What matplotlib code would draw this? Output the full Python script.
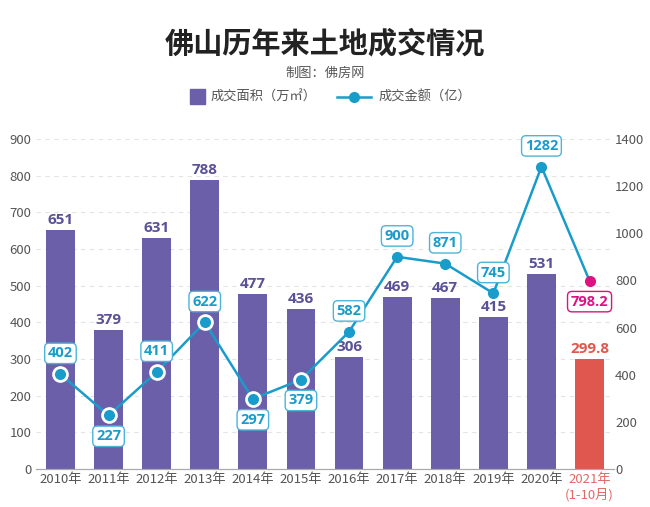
import matplotlib
matplotlib.use('Agg')
import matplotlib.pyplot as plt
from matplotlib.patches import Rectangle
from matplotlib.lines import Line2D

plt.rcParams['font.family'] = ['Noto Sans CJK SC', 'DejaVu Sans']

# data
years = ['2010年', '2011年', '2012年', '2013年', '2014年', '2015年',
         '2016年', '2017年', '2018年', '2019年', '2020年', '2021年\n(1-10月)']
area = [651, 379, 631, 788, 477, 436, 306, 469, 467, 415, 531, 299.8]
amount = [402, 227, 411, 622, 297, 379, 582, 900, 871, 745, 1282, 798.2]
area_labels = ['651', '379', '631', '788', '477', '436', '306', '469', '467', '415', '531', '299.8']
amount_labels = ['402', '227', '411', '622', '297', '379', '582', '900', '871', '745', '1282', '798.2']

PURPLE = '#6a5fa8'
PURPLE_TXT = '#5a5196'
RED = '#e0574f'
CYAN = '#1a9cca'
CYAN_EDGE = '#4db4d8'
MAGENTA = '#df1182'
GREY = '#555555'
NUM_FONT = ['Open Sans', 'DejaVu Sans']

W, H = 650, 507
fig = plt.figure(figsize=(W / 100, H / 100), dpi=100)
ax = fig.add_axes([0.056, 0.075, 0.888, 0.651])
ax2 = ax.twinx()

x = list(range(len(years)))
colors = [PURPLE] * (len(years) - 1) + [RED]
bars = ax.bar(x, area, width=0.6, color=colors, zorder=2)

for i, b in enumerate(bars):
    c = RED if i == len(years) - 1 else PURPLE_TXT
    ax.annotate(area_labels[i], (b.get_x() + b.get_width() / 2, b.get_height()),
                xytext=(0, 2), textcoords='offset points', ha='center', va='bottom',
                fontsize=11, fontweight='bold', color=c, family=NUM_FONT)

ax.set_xlim(-0.5, 11.5)
ax.set_ylim(0, 900)
ax.set_yticks(range(0, 901, 100))
ax.set_xticks(x)
ax.set_xticklabels(years)
ax.grid(axis='y', linestyle=(0, (4, 4)), color='#e4e4e4', linewidth=0.8)
ax.set_axisbelow(True)

ax2.set_ylim(0, 1400)
ax2.set_yticks(range(0, 1401, 200))

for a in (ax, ax2):
    for s in ('left', 'right', 'top'):
        a.spines[s].set_visible(False)
    a.spines['bottom'].set_color('#aaaaaa')
    a.tick_params(length=0, labelsize=9.5, labelcolor=GREY)
ax.tick_params(axis='x', pad=3)
ax2.tick_params(axis='y', pad=1)
ax.get_xticklabels()[-1].set_color('#e06a63')

# line
ax2.plot(x, amount, color=CYAN, linewidth=1.8, zorder=3)
ax2.plot(x[:6], amount[:6], 'o', markersize=10, color=CYAN,
         markeredgecolor='white', markeredgewidth=2, zorder=4)
ax2.plot(x[6:11], amount[6:11], 'o', markersize=7, color=CYAN, zorder=4)
ax2.plot(x[11:], amount[11:], 'o', markersize=7, color=MAGENTA, zorder=4)

below = {1, 4, 5, 11}
for i in x:
    dy = -15 if i in below else 15
    last = i == len(years) - 1
    tc = MAGENTA if last else CYAN
    ec = MAGENTA if last else CYAN_EDGE
    ax2.annotate(amount_labels[i], (i, amount[i]), xytext=(0, dy),
                 textcoords='offset points', ha='center', va='center',
                 fontsize=10.5, fontweight='bold', color=tc, family=NUM_FONT,
                 bbox=dict(boxstyle='round,pad=0.22,rounding_size=0.3',
                           fc='white', ec=ec, lw=1), zorder=5)

fig.text(0.5, 1 - 43 / H, '佛山历年来土地成交情况', ha='center', va='center',
         fontsize=21, fontweight='bold', color='#222222')
fig.text(0.5, 1 - 73 / H, '制图：佛房网', ha='center', va='center',
         fontsize=9.5, color=GREY)

# legend drawn by hand
ly = 1 - 97 / H
fig.add_artist(Rectangle((190 / W, ly - 7.5 / H), 15 / W, 15 / H,
                         color=PURPLE, transform=fig.transFigure))
fig.text(211 / W, ly, '成交面积（万㎡）', ha='left', va='center', fontsize=9.5, color=GREY)
fig.add_artist(Line2D([337 / W, 371 / W], [ly, ly], color=CYAN, lw=1.8,
                      transform=fig.transFigure))
fig.add_artist(Line2D([354 / W], [ly], color=CYAN, marker='o', markersize=7,
                      transform=fig.transFigure))
fig.text(379 / W, ly, '成交金额（亿）', ha='left', va='center', fontsize=9.5, color=GREY)

fig.savefig('out.png', dpi=100)
